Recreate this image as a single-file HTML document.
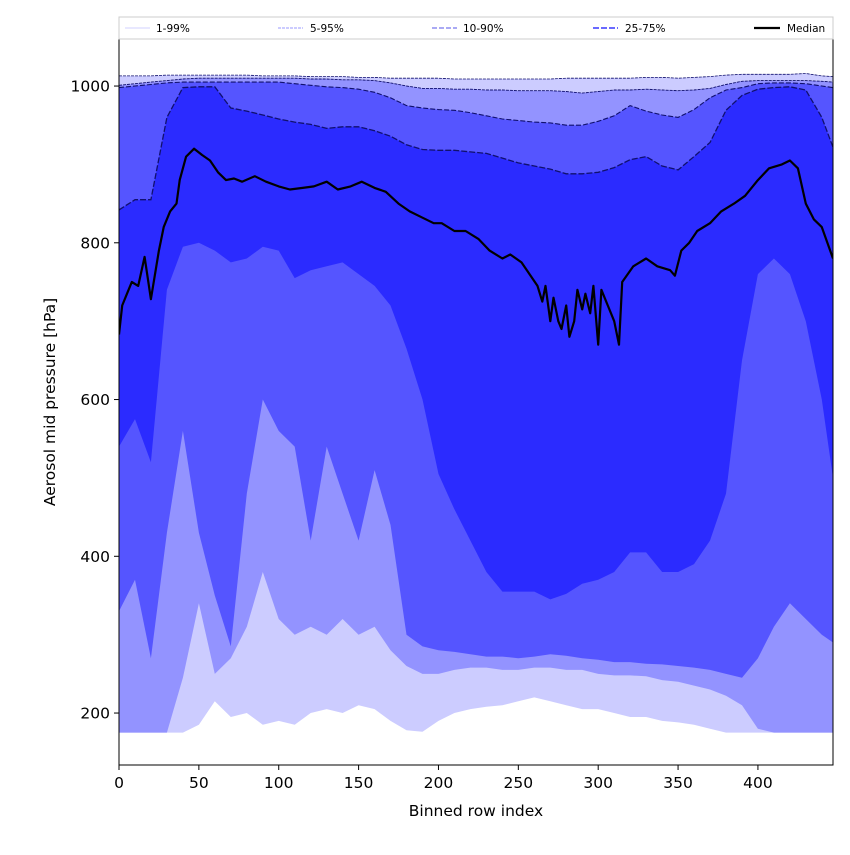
<!DOCTYPE html>
<html><head><meta charset="utf-8"><style>
body{margin:0;background:#fff;}
svg text{font-family:"DejaVu Sans","Liberation Sans",sans-serif;}
</style></head><body>
<svg id="chart" width="850" height="850" viewBox="0 0 850 850" xmlns="http://www.w3.org/2000/svg">
<defs><clipPath id="plotclip"><rect x="119" y="38" width="714" height="727"/></clipPath></defs>
<rect x="0" y="0" width="850" height="850" fill="#fff"/>
<g id="bands" clip-path="url(#plotclip)"></g>
<g id="axes"></g>
<g id="legend">
<rect x="119" y="17" width="714" height="22" fill="#fff" stroke="#ccc" stroke-width="1"/>
<g><line x1="125" y1="28" x2="150" y2="28" stroke="#d0d0ff" stroke-width="1"/><text x="156" y="32" font-size="10.5">1-99%</text></g>
<g><line x1="278" y1="28" x2="303" y2="28" stroke="#9999ff" stroke-width="1" stroke-dasharray="3,1"/><text x="310" y="32" font-size="10.5">5-95%</text></g>
<g><line x1="432" y1="28" x2="457" y2="28" stroke="#7777ee" stroke-width="1.3" stroke-dasharray="5,2"/><text x="463" y="32" font-size="10.5">10-90%</text></g>
<g><line x1="593" y1="28" x2="618" y2="28" stroke="#5555ff" stroke-width="1.8" stroke-dasharray="6,2"/><text x="625" y="32" font-size="10.5">25-75%</text></g>
<g><line x1="754" y1="28" x2="780" y2="28" stroke="#000" stroke-width="2.2"/><text x="787" y="32" font-size="10.5">Median</text></g>
</g>
</svg>
<script>
const idx = [0,10,20,30,40,50,60,70,80,90,100,110,120,130,140,150,160,170,180,190,200,210,220,230,240,250,260,270,280,290,300,310,320,330,340,350,360,370,380,390,400,410,420,430,440,447];
const p99 = [1013,1013,1013,1014,1014,1014,1014,1014,1014,1013,1013,1013,1012,1012,1012,1011,1011,1010,1010,1010,1010,1009,1009,1009,1009,1009,1009,1009,1010,1010,1010,1010,1010,1011,1011,1010,1011,1012,1014,1015,1015,1015,1015,1016,1013,1012];
const p95 = [1001,1003,1005,1007,1009,1010,1010,1010,1010,1010,1010,1010,1009,1009,1008,1008,1007,1004,1000,997,997,996,996,995,995,994,994,994,993,991,993,995,995,996,995,994,995,997,1002,1006,1007,1007,1007,1007,1006,1005];
const p90 = [998,1000,1002,1004,1005,1005,1005,1005,1005,1005,1005,1003,1001,999,998,996,992,985,975,972,970,969,966,962,958,956,954,953,950,950,955,962,975,968,963,960,970,985,995,998,1003,1004,1004,1003,1000,998];
const p75 = [842,855,855,960,998,999,999,972,968,963,958,954,951,946,948,948,943,936,925,919,918,918,916,914,908,902,898,894,888,888,890,896,906,910,898,893,910,928,969,988,996,998,999,995,960,922];
const p25 = [540,575,520,740,795,800,790,775,780,795,790,755,765,770,775,760,745,720,665,600,505,460,420,380,355,355,355,345,352,365,370,380,405,405,380,380,390,420,480,650,760,780,760,700,600,500];
const p10 = [330,370,270,430,560,430,350,285,480,600,560,540,420,540,480,420,510,440,300,285,280,278,275,272,272,270,272,275,273,270,268,265,265,263,262,260,258,255,250,245,270,310,340,320,300,290];
const p5 = [175,175,175,175,245,340,250,270,310,380,320,300,310,300,320,300,310,280,260,250,250,255,258,258,255,255,258,258,255,255,250,248,248,247,242,240,235,230,222,210,180,175,175,175,175,175];
const p1 = [175,175,175,175,175,185,215,195,200,185,190,185,200,205,200,210,205,190,178,176,190,200,205,208,210,215,220,215,210,205,205,200,195,195,190,188,185,180,175,175,175,175,175,175,175,175];
const medIdx = [0,2,5,8,12,16,20,25,28,32,36,38,42,47,52,57,62,67,72,77,85,92,100,107,115,122,130,137,145,152,160,167,175,182,190,197,202,210,217,225,232,240,245,252,257,262,265,267,270,272,275,277,280,282,285,287,290,292,295,297,300,302,306,310,313,315,322,330,337,345,348,352,357,362,370,377,385,392,400,407,415,420,425,430,435,440,447];
const medVal = [683,720,735,750,745,782,728,790,820,840,850,880,910,920,912,905,890,880,882,878,885,878,872,868,870,872,878,868,872,878,870,865,850,840,832,825,825,815,815,805,790,780,785,775,760,745,725,745,700,730,700,690,720,680,700,740,715,735,710,745,670,740,720,700,670,750,770,780,770,765,758,790,800,815,825,840,850,860,880,895,900,905,895,850,830,820,780];
const xTicks = [0,50,100,150,200,250,300,350,400];
const yTicks = [200,400,600,800,1000];

const NS = "http://www.w3.org/2000/svg";
const X = i => 119 + i * (714 / 447);
const Y = v => 765 - (v - 133.7) * (727 / 927.6);
function mk(tag, attrs, parent){ const e=document.createElementNS(NS,tag); for(const k in attrs) e.setAttribute(k,attrs[k]); parent.appendChild(e); return e; }
const bands = document.getElementById('bands');
function pts(xs, vs){ return xs.map((i,k)=>X(i).toFixed(1)+','+Y(vs[k]).toFixed(1)); }
function band(lo, hi, color, name){
  const p = pts(idx,hi).concat(pts(idx,lo).reverse());
  const el = mk('polygon',{points:p.join(' '),fill:color},bands);
  
  
}
band(p1,p99,'#ccccff','band-1-99');
band(p5,p95,'#9393ff','band-5-95');
band(p10,p90,'#5555ff','band-10-90');
band(p25,p75,'#2b2bff','band-25-75');
function edge(vs, dash, w, name){
  const el = mk('polyline',{points:pts(idx,vs).join(' '),fill:'none',stroke:'#10106e','stroke-width':w,'stroke-dasharray':dash},bands);
  
  
}
edge(p99,'3,1',0.8,'p99-line');
edge(p95,'3,1',0.9,'p95-line');
edge(p90,'5,2',1.1,'p90-line');
edge(p75,'6,2',1.3,'p75-line');
const med = mk('polyline',{points:pts(medIdx,medVal).join(' '),fill:'none',stroke:'#000','stroke-width':2.2,'stroke-linejoin':'round'},bands);



const axes = document.getElementById('axes');
const frame = mk('rect',{x:119,y:38,width:714,height:727,fill:'none',stroke:'#000','stroke-width':1},axes);


xTicks.forEach(t=>{
  const x=X(t);
  mk('line',{x1:x,y1:765,x2:x,y2:770,stroke:'#000'},axes);
  const tx=mk('text',{x:x,y:788,'font-size':15.5,'text-anchor':'middle'},axes);
  tx.textContent=t;
  
  
});
yTicks.forEach(t=>{
  const y=Y(t);
  mk('line',{x1:114,y1:y,x2:119,y2:y,stroke:'#000'},axes);
  const tx=mk('text',{x:110,y:y+5.5,'font-size':15.5,'text-anchor':'end'},axes);
  tx.textContent=t;
  
  
});
const xt=mk('text',{x:476,y:816,'font-size':15.5,'text-anchor':'middle'},axes);
xt.textContent='Binned row index';


const yt=mk('text',{x:55,y:402,'font-size':15.5,'text-anchor':'middle',transform:'rotate(-90 55 402)'},axes);
yt.textContent='Aerosol mid pressure [hPa]';


</script>
</body></html>
